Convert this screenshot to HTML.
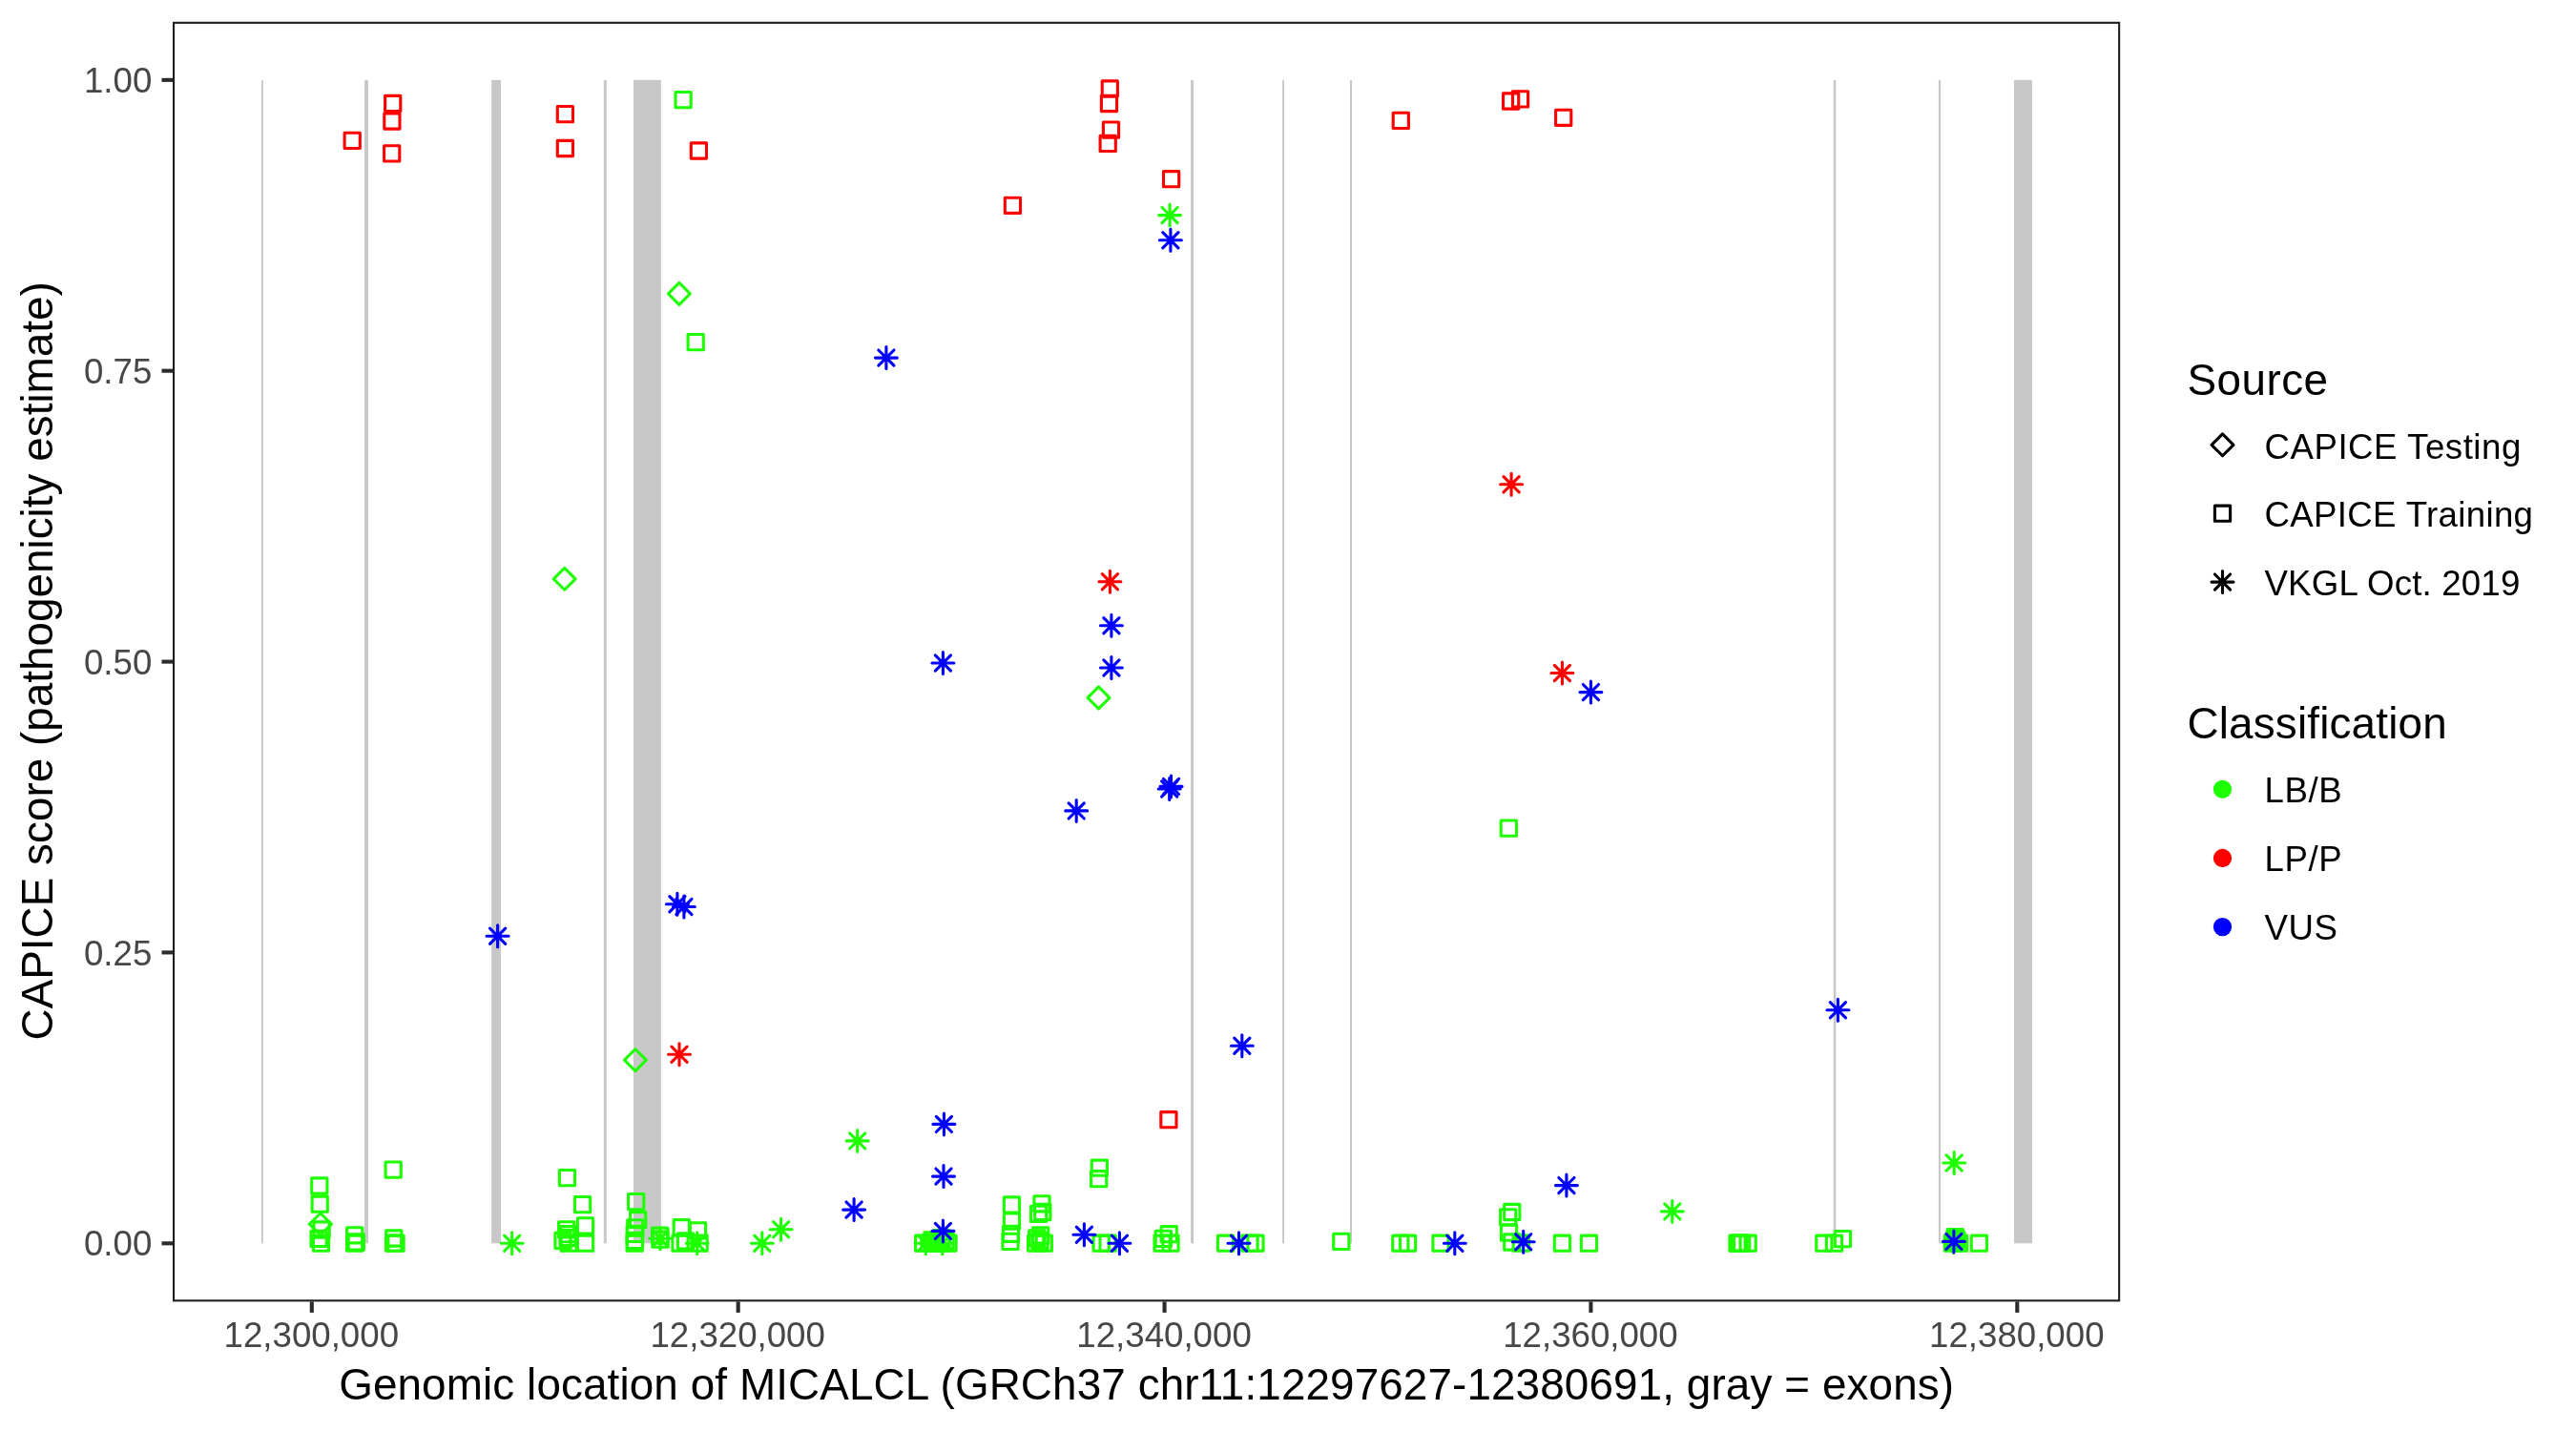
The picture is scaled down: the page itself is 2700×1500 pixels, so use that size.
<!DOCTYPE html><html><head><meta charset="utf-8"><style>html,body{margin:0;padding:0;background:#fff;}svg{display:block;will-change:transform;}text{font-family:"Liberation Sans",sans-serif;}</style></head><body>
<svg width="2700" height="1500" viewBox="0 0 2700 1500">
<rect x="0" y="0" width="2700" height="1500" fill="#fff"/>
<g fill="#C8C8C8">
<rect x="273.9" y="83.85" width="1.9" height="1219.45"/>
<rect x="382" y="83.85" width="4" height="1219.45"/>
<rect x="515.1" y="83.85" width="9.9" height="1219.45"/>
<rect x="632.8" y="83.85" width="3" height="1219.45"/>
<rect x="664" y="83.85" width="28.9" height="1219.45"/>
<rect x="1248.1" y="83.85" width="2.9" height="1219.45"/>
<rect x="1344.1" y="83.85" width="1.9" height="1219.45"/>
<rect x="1415" y="83.85" width="2" height="1219.45"/>
<rect x="1921.8" y="83.85" width="2.5" height="1219.45"/>
<rect x="2031.9" y="83.85" width="2.2" height="1219.45"/>
<rect x="2111" y="83.85" width="19" height="1219.45"/>
</g>
<g fill="none" stroke-width="3.1" stroke-linecap="round" stroke-linejoin="round">
<rect x="708" y="96.5" width="16.2" height="16.2" stroke="#1EFF00"/>
<path d="M711.9 296.44L723.36 307.9L711.9 319.36L700.44 307.9Z" stroke="#1EFF00"/>
<rect x="721.1" y="350.5" width="16.2" height="16.2" stroke="#1EFF00"/>
<path d="M591.7 595.34L603.16 606.8L591.7 618.26L580.24 606.8Z" stroke="#1EFF00"/>
<path d="M1151.5 719.94L1162.96 731.4L1151.5 742.86L1140.04 731.4Z" stroke="#1EFF00"/>
<path d="M665.9 1099.74L677.36 1111.2L665.9 1122.66L654.44 1111.2Z" stroke="#1EFF00"/>
<rect x="1573.2" y="860" width="16.2" height="16.2" stroke="#1EFF00"/>
<rect x="404.1" y="1218" width="16.2" height="16.2" stroke="#1EFF00"/>
<rect x="326.7" y="1234.9" width="16.2" height="16.2" stroke="#1EFF00"/>
<rect x="327.1" y="1254.1" width="16.2" height="16.2" stroke="#1EFF00"/>
<path d="M335.9 1271.74L347.36 1283.2L335.9 1294.66L324.44 1283.2Z" stroke="#1EFF00"/>
<rect x="329" y="1280.9" width="16.2" height="16.2" stroke="#1EFF00"/>
<rect x="326" y="1290.3" width="16.2" height="16.2" stroke="#1EFF00"/>
<rect x="328.4" y="1295.1" width="16.2" height="16.2" stroke="#1EFF00"/>
<rect x="363.6" y="1286.7" width="16.2" height="16.2" stroke="#1EFF00"/>
<rect x="365.2" y="1293.9" width="16.2" height="16.2" stroke="#1EFF00"/>
<rect x="363.5" y="1295.1" width="16.2" height="16.2" stroke="#1EFF00"/>
<rect x="404.7" y="1289.9" width="16.2" height="16.2" stroke="#1EFF00"/>
<rect x="406.9" y="1295.1" width="16.2" height="16.2" stroke="#1EFF00"/>
<rect x="404.6" y="1295.1" width="16.2" height="16.2" stroke="#1EFF00"/>
<rect x="586.4" y="1226.5" width="16.2" height="16.2" stroke="#1EFF00"/>
<rect x="602.5" y="1254.5" width="16.2" height="16.2" stroke="#1EFF00"/>
<rect x="605.4" y="1276.8" width="16.2" height="16.2" stroke="#1EFF00"/>
<rect x="605.4" y="1295.1" width="16.2" height="16.2" stroke="#1EFF00"/>
<rect x="585.6" y="1280.7" width="16.2" height="16.2" stroke="#1EFF00"/>
<rect x="581.9" y="1292.3" width="16.2" height="16.2" stroke="#1EFF00"/>
<rect x="588" y="1295.1" width="16.2" height="16.2" stroke="#1EFF00"/>
<rect x="658.6" y="1251.5" width="16.2" height="16.2" stroke="#1EFF00"/>
<rect x="660.6" y="1270.6" width="16.2" height="16.2" stroke="#1EFF00"/>
<rect x="657.7" y="1278.8" width="16.2" height="16.2" stroke="#1EFF00"/>
<rect x="657.1" y="1285.3" width="16.2" height="16.2" stroke="#1EFF00"/>
<rect x="657.1" y="1295.1" width="16.2" height="16.2" stroke="#1EFF00"/>
<rect x="683.5" y="1287.1" width="16.2" height="16.2" stroke="#1EFF00"/>
<rect x="684" y="1291.1" width="16.2" height="16.2" stroke="#1EFF00"/>
<rect x="706.2" y="1278.6" width="16.2" height="16.2" stroke="#1EFF00"/>
<rect x="704.9" y="1295.1" width="16.2" height="16.2" stroke="#1EFF00"/>
<rect x="723.4" y="1281.8" width="16.2" height="16.2" stroke="#1EFF00"/>
<rect x="725" y="1295.1" width="16.2" height="16.2" stroke="#1EFF00"/>
<rect x="1052.4" y="1254.9" width="16.2" height="16.2" stroke="#1EFF00"/>
<rect x="1052.4" y="1271.9" width="16.2" height="16.2" stroke="#1EFF00"/>
<rect x="1051.4" y="1285.2" width="16.2" height="16.2" stroke="#1EFF00"/>
<rect x="1050.9" y="1293.3" width="16.2" height="16.2" stroke="#1EFF00"/>
<rect x="1083.9" y="1253.7" width="16.2" height="16.2" stroke="#1EFF00"/>
<rect x="1080.5" y="1264.2" width="16.2" height="16.2" stroke="#1EFF00"/>
<rect x="1084.7" y="1262.4" width="16.2" height="16.2" stroke="#1EFF00"/>
<rect x="1144.3" y="1216.1" width="16.2" height="16.2" stroke="#1EFF00"/>
<rect x="1143.5" y="1227.6" width="16.2" height="16.2" stroke="#1EFF00"/>
<rect x="1146.1" y="1295.1" width="16.2" height="16.2" stroke="#1EFF00"/>
<rect x="1153" y="1295.1" width="16.2" height="16.2" stroke="#1EFF00"/>
<rect x="1217.1" y="1285.6" width="16.2" height="16.2" stroke="#1EFF00"/>
<rect x="1211.2" y="1290.3" width="16.2" height="16.2" stroke="#1EFF00"/>
<rect x="1210" y="1295.1" width="16.2" height="16.2" stroke="#1EFF00"/>
<rect x="1218.9" y="1295.1" width="16.2" height="16.2" stroke="#1EFF00"/>
<rect x="1276.5" y="1295.1" width="16.2" height="16.2" stroke="#1EFF00"/>
<rect x="1301.9" y="1295.1" width="16.2" height="16.2" stroke="#1EFF00"/>
<rect x="1307.9" y="1295.1" width="16.2" height="16.2" stroke="#1EFF00"/>
<rect x="1397.7" y="1293.3" width="16.2" height="16.2" stroke="#1EFF00"/>
<rect x="1459.7" y="1295.1" width="16.2" height="16.2" stroke="#1EFF00"/>
<rect x="1467.4" y="1295.1" width="16.2" height="16.2" stroke="#1EFF00"/>
<rect x="1501.9" y="1295.1" width="16.2" height="16.2" stroke="#1EFF00"/>
<rect x="1576.7" y="1262.4" width="16.2" height="16.2" stroke="#1EFF00"/>
<rect x="1572.6" y="1267.7" width="16.2" height="16.2" stroke="#1EFF00"/>
<rect x="1573.4" y="1284" width="16.2" height="16.2" stroke="#1EFF00"/>
<rect x="1576.7" y="1293.9" width="16.2" height="16.2" stroke="#1EFF00"/>
<rect x="1586.2" y="1295.1" width="16.2" height="16.2" stroke="#1EFF00"/>
<rect x="1629.3" y="1295.1" width="16.2" height="16.2" stroke="#1EFF00"/>
<rect x="1657.3" y="1295.1" width="16.2" height="16.2" stroke="#1EFF00"/>
<rect x="1814.6" y="1295.1" width="16.2" height="16.2" stroke="#1EFF00"/>
<rect x="1817.5" y="1295.1" width="16.2" height="16.2" stroke="#1EFF00"/>
<rect x="1824.1" y="1295.1" width="16.2" height="16.2" stroke="#1EFF00"/>
<rect x="1903.7" y="1295.1" width="16.2" height="16.2" stroke="#1EFF00"/>
<rect x="1914.4" y="1295.1" width="16.2" height="16.2" stroke="#1EFF00"/>
<rect x="1923.3" y="1290.5" width="16.2" height="16.2" stroke="#1EFF00"/>
<rect x="2041.3" y="1288.5" width="16.2" height="16.2" stroke="#1EFF00"/>
<rect x="2045.5" y="1295.1" width="16.2" height="16.2" stroke="#1EFF00"/>
<rect x="2038.3" y="1295.1" width="16.2" height="16.2" stroke="#1EFF00"/>
<rect x="2066.3" y="1295.1" width="16.2" height="16.2" stroke="#1EFF00"/>
<rect x="587.4" y="1285.5" width="16.2" height="16.2" stroke="#1EFF00"/>
<rect x="586.9" y="1289.4" width="16.2" height="16.2" stroke="#1EFF00"/>
<rect x="959.5" y="1295.1" width="16.2" height="16.2" stroke="#1EFF00"/>
<rect x="965.9" y="1295.1" width="16.2" height="16.2" stroke="#1EFF00"/>
<rect x="972.4" y="1295.1" width="16.2" height="16.2" stroke="#1EFF00"/>
<rect x="978.9" y="1295.1" width="16.2" height="16.2" stroke="#1EFF00"/>
<rect x="985.9" y="1295.1" width="16.2" height="16.2" stroke="#1EFF00"/>
<rect x="978.8" y="1289.6" width="16.2" height="16.2" stroke="#1EFF00"/>
<rect x="1082.6" y="1286.9" width="16.2" height="16.2" stroke="#1EFF00"/>
<rect x="1078.6" y="1289.7" width="16.2" height="16.2" stroke="#1EFF00"/>
<rect x="1077.6" y="1295.1" width="16.2" height="16.2" stroke="#1EFF00"/>
<rect x="1086.2" y="1295.1" width="16.2" height="16.2" stroke="#1EFF00"/>
<rect x="657.4" y="1292.4" width="16.2" height="16.2" stroke="#1EFF00"/>
<rect x="710.4" y="1292.9" width="16.2" height="16.2" stroke="#1EFF00"/>
<rect x="1081.9" y="1292.4" width="16.2" height="16.2" stroke="#1EFF00"/>
<rect x="968.9" y="1291.9" width="16.2" height="16.2" stroke="#1EFF00"/>
<rect x="982.9" y="1292.4" width="16.2" height="16.2" stroke="#1EFF00"/>
<rect x="2042.9" y="1291.9" width="16.2" height="16.2" stroke="#1EFF00"/>
<rect x="2040.9" y="1290.9" width="16.2" height="16.2" stroke="#1EFF00"/>
<rect x="1812.9" y="1295.1" width="16.2" height="16.2" stroke="#1EFF00"/>
<path d="M1218 217.5L1234.2 233.7M1218 233.7L1234.2 217.5M1214.64 225.6L1237.56 225.6M1226.1 214.14L1226.1 237.06" stroke="#1EFF00"/>
<path d="M528.6 1295.1L544.8 1311.3M528.6 1311.3L544.8 1295.1M525.24 1303.2L548.16 1303.2M536.7 1291.74L536.7 1314.66" stroke="#1EFF00"/>
<path d="M684 1290.1L700.2 1306.3M684 1306.3L700.2 1290.1M680.64 1298.2L703.56 1298.2M692.1 1286.74L692.1 1309.66" stroke="#1EFF00"/>
<path d="M722.6 1295.1L738.8 1311.3M722.6 1311.3L738.8 1295.1M719.24 1303.2L742.16 1303.2M730.7 1291.74L730.7 1314.66" stroke="#1EFF00"/>
<path d="M790.7 1295.1L806.9 1311.3M790.7 1311.3L806.9 1295.1M787.34 1303.2L810.26 1303.2M798.8 1291.74L798.8 1314.66" stroke="#1EFF00"/>
<path d="M810.5 1280.7L826.7 1296.9M810.5 1296.9L826.7 1280.7M807.14 1288.8L830.06 1288.8M818.6 1277.34L818.6 1300.26" stroke="#1EFF00"/>
<path d="M890.6 1187.8L906.8 1204M890.6 1204L906.8 1187.8M887.24 1195.9L910.16 1195.9M898.7 1184.44L898.7 1207.36" stroke="#1EFF00"/>
<path d="M962.3 1295.1L978.5 1311.3M962.3 1311.3L978.5 1295.1M958.94 1303.2L981.86 1303.2M970.4 1291.74L970.4 1314.66" stroke="#1EFF00"/>
<path d="M979.6 1295.1L995.8 1311.3M979.6 1311.3L995.8 1295.1M976.24 1303.2L999.16 1303.2M987.7 1291.74L987.7 1314.66" stroke="#1EFF00"/>
<path d="M1744.7 1261.8L1760.9 1278M1744.7 1278L1760.9 1261.8M1741.34 1269.9L1764.26 1269.9M1752.8 1258.44L1752.8 1281.36" stroke="#1EFF00"/>
<path d="M2040.1 1210.9L2056.3 1227.1M2040.1 1227.1L2056.3 1210.9M2036.74 1219L2059.66 1219M2048.2 1207.54L2048.2 1230.46" stroke="#1EFF00"/>
<path d="M2039.4 1293.9L2055.6 1310.1M2039.4 1310.1L2055.6 1293.9M2036.04 1302L2058.96 1302M2047.5 1290.54L2047.5 1313.46" stroke="#1EFF00"/>
<rect x="361.1" y="139.3" width="16.2" height="16.2" stroke="#FF0000"/>
<rect x="403.6" y="100.4" width="16.2" height="16.2" stroke="#FF0000"/>
<rect x="402.8" y="118.9" width="16.2" height="16.2" stroke="#FF0000"/>
<rect x="402.6" y="152.8" width="16.2" height="16.2" stroke="#FF0000"/>
<rect x="584.3" y="111.5" width="16.2" height="16.2" stroke="#FF0000"/>
<rect x="584.3" y="147.4" width="16.2" height="16.2" stroke="#FF0000"/>
<rect x="724.3" y="149.9" width="16.2" height="16.2" stroke="#FF0000"/>
<rect x="1053.3" y="207.2" width="16.2" height="16.2" stroke="#FF0000"/>
<rect x="1155.2" y="84.9" width="16.2" height="16.2" stroke="#FF0000"/>
<rect x="1154.4" y="100.4" width="16.2" height="16.2" stroke="#FF0000"/>
<rect x="1156.4" y="128" width="16.2" height="16.2" stroke="#FF0000"/>
<rect x="1153.1" y="142.3" width="16.2" height="16.2" stroke="#FF0000"/>
<rect x="1219.5" y="179.6" width="16.2" height="16.2" stroke="#FF0000"/>
<rect x="1460.2" y="118.3" width="16.2" height="16.2" stroke="#FF0000"/>
<rect x="1575.5" y="97.9" width="16.2" height="16.2" stroke="#FF0000"/>
<rect x="1585.4" y="95.8" width="16.2" height="16.2" stroke="#FF0000"/>
<rect x="1630.6" y="115.2" width="16.2" height="16.2" stroke="#FF0000"/>
<rect x="1216.8" y="1165.6" width="16.2" height="16.2" stroke="#FF0000"/>
<path d="M1576 499.7L1592.2 515.9M1576 515.9L1592.2 499.7M1572.64 507.8L1595.56 507.8M1584.1 496.34L1584.1 519.26" stroke="#FF0000"/>
<path d="M1155.3 601.7L1171.5 617.9M1155.3 617.9L1171.5 601.7M1151.94 609.8L1174.86 609.8M1163.4 598.34L1163.4 621.26" stroke="#FF0000"/>
<path d="M1629.3 697.4L1645.5 713.6M1629.3 713.6L1645.5 697.4M1625.94 705.5L1648.86 705.5M1637.4 694.04L1637.4 716.96" stroke="#FF0000"/>
<path d="M703.9 1097.2L720.1 1113.4M703.9 1113.4L720.1 1097.2M700.54 1105.3L723.46 1105.3M712 1093.84L712 1116.76" stroke="#FF0000"/>
<path d="M1218.8 243.7L1235 259.9M1218.8 259.9L1235 243.7M1215.44 251.8L1238.36 251.8M1226.9 240.34L1226.9 263.26" stroke="#0000FF"/>
<path d="M920.8 367L937 383.2M920.8 383.2L937 367M917.44 375.1L940.36 375.1M928.9 363.64L928.9 386.56" stroke="#0000FF"/>
<path d="M1156.8 647.7L1173 663.9M1156.8 663.9L1173 647.7M1153.44 655.8L1176.36 655.8M1164.9 644.34L1164.9 667.26" stroke="#0000FF"/>
<path d="M980.3 686.9L996.5 703.1M980.3 703.1L996.5 686.9M976.94 695L999.86 695M988.4 683.54L988.4 706.46" stroke="#0000FF"/>
<path d="M1156.8 691.9L1173 708.1M1156.8 708.1L1173 691.9M1153.44 700L1176.36 700M1164.9 688.54L1164.9 711.46" stroke="#0000FF"/>
<path d="M1659.3 717.5L1675.5 733.7M1659.3 733.7L1675.5 717.5M1655.94 725.6L1678.86 725.6M1667.4 714.14L1667.4 737.06" stroke="#0000FF"/>
<path d="M513.5 973.2L529.7 989.4M513.5 989.4L529.7 973.2M510.14 981.3L533.06 981.3M521.6 969.84L521.6 992.76" stroke="#0000FF"/>
<path d="M701.8 939.6L718 955.8M701.8 955.8L718 939.6M698.44 947.7L721.36 947.7M709.9 936.24L709.9 959.16" stroke="#0000FF"/>
<path d="M708.8 942.4L725 958.6M708.8 958.6L725 942.4M705.44 950.5L728.36 950.5M716.9 939.04L716.9 961.96" stroke="#0000FF"/>
<path d="M1120.1 841.8L1136.3 858M1120.1 858L1136.3 841.8M1116.74 849.9L1139.66 849.9M1128.2 838.44L1128.2 861.36" stroke="#0000FF"/>
<path d="M1219.4 816.3L1235.6 832.5M1219.4 832.5L1235.6 816.3M1216.04 824.4L1238.96 824.4M1227.5 812.94L1227.5 835.86" stroke="#0000FF"/>
<path d="M1217.6 818.9L1233.8 835.1M1217.6 835.1L1233.8 818.9M1214.24 827L1237.16 827M1225.7 815.54L1225.7 838.46" stroke="#0000FF"/>
<path d="M1293.7 1088.1L1309.9 1104.3M1293.7 1104.3L1309.9 1088.1M1290.34 1096.2L1313.26 1096.2M1301.8 1084.74L1301.8 1107.66" stroke="#0000FF"/>
<path d="M1918.3 1050.7L1934.5 1066.9M1918.3 1066.9L1934.5 1050.7M1914.94 1058.8L1937.86 1058.8M1926.4 1047.34L1926.4 1070.26" stroke="#0000FF"/>
<path d="M981.3 1170.3L997.5 1186.5M981.3 1186.5L997.5 1170.3M977.94 1178.4L1000.86 1178.4M989.4 1166.94L989.4 1189.86" stroke="#0000FF"/>
<path d="M980.9 1225L997.1 1241.2M980.9 1241.2L997.1 1225M977.54 1233.1L1000.46 1233.1M989 1221.64L989 1244.56" stroke="#0000FF"/>
<path d="M887 1260L903.2 1276.2M887 1276.2L903.2 1260M883.64 1268.1L906.56 1268.1M895.1 1256.64L895.1 1279.56" stroke="#0000FF"/>
<path d="M980.3 1282.3L996.5 1298.5M980.3 1298.5L996.5 1282.3M976.94 1290.4L999.86 1290.4M988.4 1278.94L988.4 1301.86" stroke="#0000FF"/>
<path d="M1128.3 1286.2L1144.5 1302.4M1128.3 1302.4L1144.5 1286.2M1124.94 1294.3L1147.86 1294.3M1136.4 1282.84L1136.4 1305.76" stroke="#0000FF"/>
<path d="M1165.3 1295.1L1181.5 1311.3M1165.3 1311.3L1181.5 1295.1M1161.94 1303.2L1184.86 1303.2M1173.4 1291.74L1173.4 1314.66" stroke="#0000FF"/>
<path d="M1290.4 1295.1L1306.6 1311.3M1290.4 1311.3L1306.6 1295.1M1287.04 1303.2L1309.96 1303.2M1298.5 1291.74L1298.5 1314.66" stroke="#0000FF"/>
<path d="M1516.7 1295.1L1532.9 1311.3M1516.7 1311.3L1532.9 1295.1M1513.34 1303.2L1536.26 1303.2M1524.8 1291.74L1524.8 1314.66" stroke="#0000FF"/>
<path d="M1588.6 1293.6L1604.8 1309.8M1588.6 1309.8L1604.8 1293.6M1585.24 1301.7L1608.16 1301.7M1596.7 1290.24L1596.7 1313.16" stroke="#0000FF"/>
<path d="M1633.8 1234.5L1650 1250.7M1633.8 1250.7L1650 1234.5M1630.44 1242.6L1653.36 1242.6M1641.9 1231.14L1641.9 1254.06" stroke="#0000FF"/>
<path d="M2039.8 1293.3L2056 1309.5M2039.8 1309.5L2056 1293.3M2036.44 1301.4L2059.36 1301.4M2047.9 1289.94L2047.9 1312.86" stroke="#0000FF"/>
</g>
<rect x="182.05" y="23.85" width="2039.1" height="1339.5" fill="none" stroke="#1F1F1F" stroke-width="2.1"/>
<g stroke="#2B2B2B" stroke-width="4.1">
<line x1="169.5" y1="83.85" x2="181" y2="83.85"/>
<line x1="169.5" y1="388.7" x2="181" y2="388.7"/>
<line x1="169.5" y1="693.6" x2="181" y2="693.6"/>
<line x1="169.5" y1="998.4" x2="181" y2="998.4"/>
<line x1="169.5" y1="1303.3" x2="181" y2="1303.3"/>
<line x1="326.8" y1="1364.4" x2="326.8" y2="1375.9"/>
<line x1="773.67" y1="1364.4" x2="773.67" y2="1375.9"/>
<line x1="1220.55" y1="1364.4" x2="1220.55" y2="1375.9"/>
<line x1="1667.42" y1="1364.4" x2="1667.42" y2="1375.9"/>
<line x1="2114.3" y1="1364.4" x2="2114.3" y2="1375.9"/>
</g>
<g fill="#474747" font-size="36.67px">
<text x="159.3" y="97" text-anchor="end">1.00</text>
<text x="159.3" y="401.85" text-anchor="end">0.75</text>
<text x="159.3" y="706.75" text-anchor="end">0.50</text>
<text x="159.3" y="1011.55" text-anchor="end">0.25</text>
<text x="159.3" y="1316.45" text-anchor="end">0.00</text>
<text x="326.3" y="1411.6" text-anchor="middle">12,300,000</text>
<text x="773.17" y="1411.6" text-anchor="middle">12,320,000</text>
<text x="1220.05" y="1411.6" text-anchor="middle">12,340,000</text>
<text x="1666.92" y="1411.6" text-anchor="middle">12,360,000</text>
<text x="2113.8" y="1411.6" text-anchor="middle">12,380,000</text>
</g>
<g fill="#000" font-size="45.83px">
<text x="1201.6" y="1466.7" text-anchor="middle" textLength="1692.9" lengthAdjust="spacing">Genomic location of MICALCL (GRCh37 chr11:12297627-12380691, gray = exons)</text>
<text transform="translate(54.8 692.8) rotate(-90)" text-anchor="middle" textLength="795.3" lengthAdjust="spacing">CAPICE score (pathogenicity estimate)</text>
<text x="2292.4" y="413.5" textLength="147.7" lengthAdjust="spacing">Source</text>
<text x="2292.4" y="774.1" textLength="272.3" lengthAdjust="spacing">Classification</text>
</g>
<g fill="none" stroke="#000" stroke-width="3.1" stroke-linecap="round" stroke-linejoin="round">
<path d="M2329.5 454.84L2340.96 466.3L2329.5 477.76L2318.04 466.3Z" stroke="#000000"/>
<rect x="2321.4" y="530.1" width="16.2" height="16.2" stroke="#000000"/>
<path d="M2321.4 602L2337.6 618.2M2321.4 618.2L2337.6 602M2318.04 610.1L2340.96 610.1M2329.5 598.64L2329.5 621.56" stroke="#000000"/>
</g>
<circle cx="2329.5" cy="827.3" r="9.65" fill="#1EFF00" stroke="none"/>
<circle cx="2329.5" cy="899.5" r="9.65" fill="#FF0000" stroke="none"/>
<circle cx="2329.5" cy="971.6" r="9.65" fill="#0000FF" stroke="none"/>
<g fill="#000" font-size="36.67px">
<text x="2373.5" y="480.5" textLength="268.8" lengthAdjust="spacing">CAPICE Testing</text>
<text x="2373.5" y="551.8" textLength="281.5" lengthAdjust="spacing">CAPICE Training</text>
<text x="2373.5" y="624.2" textLength="267.8" lengthAdjust="spacing">VKGL Oct. 2019</text>
<text x="2373.5" y="841.2" textLength="81.2" lengthAdjust="spacing">LB/B</text>
<text x="2373.5" y="913.4" textLength="81.2" lengthAdjust="spacing">LP/P</text>
<text x="2373.5" y="985.2" textLength="76.4" lengthAdjust="spacing">VUS</text>
</g>
</svg></body></html>
